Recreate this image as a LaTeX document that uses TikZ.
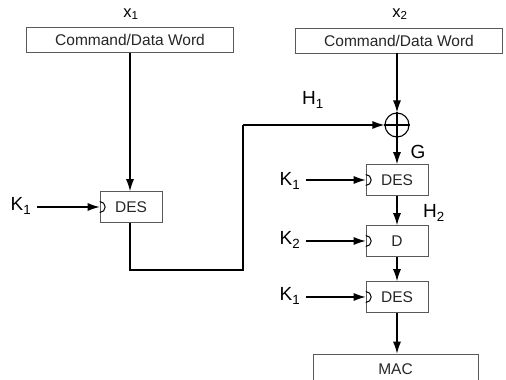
\documentclass[tikz,border=0pt]{standalone}
\usepackage{fontspec}
\setmainfont{Liberation Sans}
\usetikzlibrary{arrows.meta}

\begin{document}
\begin{tikzpicture}[x=1pt, y=-1pt, font=\fontsize{15.5}{17}\selectfont,
    >={Latex[length=12pt,width=8pt]}]
  \tikzstyle{box}=[draw=black!65, line width=0.6pt, inner sep=0pt, text=black!85]
  \tikzstyle{word}=[box, minimum width=207, minimum height=25]
  \tikzstyle{cipher}=[box, minimum width=62, minimum height=31]
  \tikzstyle{wire}=[line width=1.1pt]
  \tikzstyle{lbl}=[inner sep=1pt, font=\fontsize{19}{21}\selectfont]
  \tikzstyle{xlbl}=[inner sep=1pt, font=\fontsize{16.5}{18}\selectfont]
  \clip (0,0) rectangle (506,380);
  \fill[white] (0,0) rectangle (506,380);
  % command words
  \node[word] (word1) at (130,40) {Command/Data Word};
  \node[word] (word2) at (399,40.5) {Command/Data Word};
  \node[xlbl] (x1) at (131,14) {x\textsubscript{1}};
  \node[xlbl] (x2) at (400,14) {x\textsubscript{2}};
  % first block
  \node[cipher] (des1) at (131,207) {DES};
  \node[lbl] (k1a) at (21,206) {K\textsubscript{1}};
  \coordinate (c1) at (130,270);
  \coordinate (c2) at (243,270);
  \coordinate (c3) at (243,125);
  % second block
  \node[draw, circle, minimum size=24, inner sep=0pt, line width=1.1pt] (xor) at (397,125) {};
  \draw[line width=1.1pt] (xor.north) -- (xor.south) (xor.west) -- (xor.east);
  \node[lbl] (h1) at (313,100) {H\textsubscript{1}};
  \node[cipher] (des2) at (397,180) {DES};
  \node[lbl] (g) at (418,152) {G};
  \node[cipher] (dd) at (397,241) {D};
  \node[lbl] (h2) at (434,213) {H\textsubscript{2}};
  \node[cipher] (des3) at (397,297) {DES};
  \node[box, minimum width=165, minimum height=30] (mac) at (395.5,369) {MAC};
  \node[lbl] (k1b) at (290,181) {K\textsubscript{1}};
  \node[lbl] (k2) at (290,240) {K\textsubscript{2}};
  \node[lbl] (k1c) at (290,296) {K\textsubscript{1}};
  % connectors
  \draw[wire,->] (word1.south) -- (des1.north -| word1.south);
  \draw[wire] (des1.south -| c1) -- (c1) -- (c2) -- (c3);
  \draw[wire,->] (c3) -- (xor.west);
  \draw[wire,->] (word2.south -| xor) -- (xor.north);
  \draw[wire,->] (xor.south) -- (des2.north);
  \draw[wire,->] (des2.south) -- (dd.north);
  \draw[wire,->] (dd.south) -- (des3.north);
  \draw[wire,->] (des3.south) -- (mac.north -| des3.south);
  % key inputs
  \foreach \k/\b in {k1a/des1, k1b/des2, k2/dd, k1c/des3}{
    \draw[wire,->] ([xshift=5pt]\k.east |- \b.west) -- (\b.west);
    \draw[line width=1pt] ([yshift=5.5pt]\b.west) arc[start angle=90, end angle=-90, radius=5.5pt];
  }
\end{tikzpicture}
\end{document}
